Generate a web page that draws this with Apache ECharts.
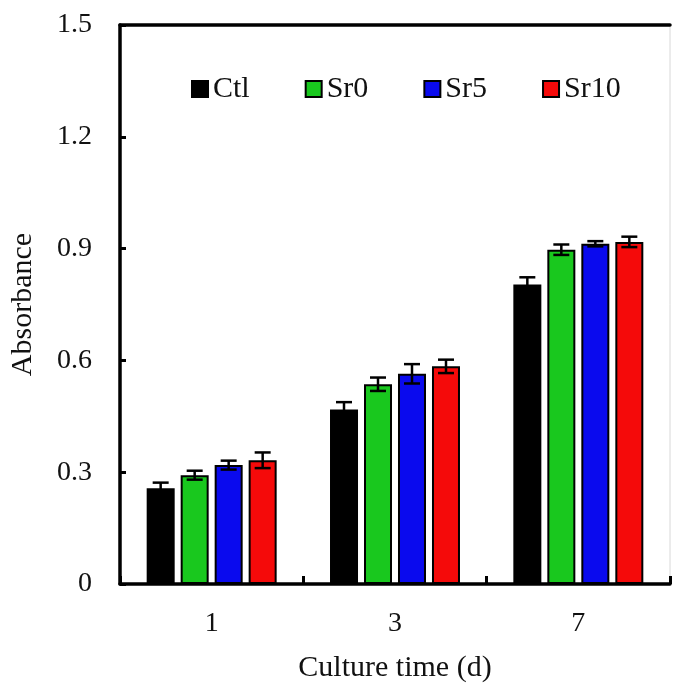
<!DOCTYPE html>
<html>
<head>
<meta charset="utf-8">
<script src="https://cdn.jsdelivr.net/npm/echarts@6/dist/echarts.min.js"></script>
<style>
  html,body{margin:0;padding:0;background:#fff;}
  #main{width:673px;height:688px;}
</style>
</head>
<body>
<div id="main"></div>
<script>
// 数据
var days = ['1', '3', '7'];
var seriesNames = ['Ctl', 'Sr0', 'Sr5', 'Sr10'];
var colors = ['#000000', '#19c81e', '#0a0aee', '#f50a0a'];
var ctl = [0.257, 0.468, 0.804];
var sr0 = [0.292, 0.536, 0.897];
var sr5 = [0.319, 0.564, 0.913];
var sr10 = [0.332, 0.584, 0.918];
var ctlErr = [0.015, 0.020, 0.019];
var sr0Err = [0.012, 0.018, 0.014];
var sr5Err = [0.012, 0.026, 0.007];
var sr10Err = [0.021, 0.018, 0.014];
var yTicks = [0, 0.3, 0.6, 0.9, 1.2, 1.5];

var values = [ctl, sr0, sr5, sr10];
var errs = [ctlErr, sr0Err, sr5Err, sr10Err];

var FONT = '"Liberation Serif","Times New Roman",serif';
var BAR_W = 28, BAR_GAP = 6;

var myChart = echarts.init(document.getElementById('main'));

var series = [];
//柱子
seriesNames.forEach(function(name, i){
  series.push({
    name: name,
    type: 'bar',
    barWidth: BAR_W,
    barGap: (BAR_GAP / BAR_W * 100).toFixed(1) + '%',
    data: values[i],
    itemStyle: {color: colors[i], borderColor: '#000', borderWidth: 2},
    z: 2
  });
});
//误差线
seriesNames.forEach(function(name, i){
  var offset = (i - 1.5) * (BAR_W + BAR_GAP);
  series.push({
    type: 'custom',
    name: name + '_err',
    z: 3,
    data: values[i].map(function(v, j){ return [j, v - errs[i][j], v + errs[i][j]]; }),
    renderItem: function(params, api){
      var lo = api.coord([api.value(0), api.value(1)]);
      var hi = api.coord([api.value(0), api.value(2)]);
      var x = lo[0] + offset;
      var cap = 8;
      var st = {stroke: '#000', lineWidth: 2.5};
      return {
        type: 'group',
        children: [
          {type: 'line', shape: {x1: x, y1: lo[1], x2: x, y2: hi[1]}, style: st},
          {type: 'line', shape: {x1: x - cap, y1: hi[1], x2: x + cap, y2: hi[1]}, style: st},
          {type: 'line', shape: {x1: x - cap, y1: lo[1], x2: x + cap, y2: lo[1]}, style: st}
        ]
      };
    }
  });
});

var option = {
  animation: false,
  backgroundColor: '#fff',
  grid: {
    left: 116, right: 3, top: 25, bottom: 102,
    show: true, borderColor: '#d8d8d8', borderWidth: 1
  },
  legend: {
    data: seriesNames,
    top: 69,
    left: 186,
    itemGap: 55,
    itemWidth: 16,
    itemHeight: 16,
    icon: 'rect',
    textStyle: {fontFamily: FONT, fontSize: 30, color: '#111'}
  },
  xAxis: [{
    type: 'category',
    data: days,
    name: 'Culture time (d)',
    nameLocation: 'middle',
    nameGap: 69,
    nameTextStyle: {fontFamily: FONT, fontSize: 30, color: '#111'},
    axisLine: {lineStyle: {color: '#000', width: 3.5}},
    axisTick: {show: true, interval: 0, inside: true, length: 8, lineStyle: {width: 3, color: '#000'}},
    axisLabel: {fontFamily: FONT, fontSize: 28, color: '#111', margin: 26}
  }, {
    type: 'category',
    data: days,
    position: 'top',
    axisLine: {lineStyle: {color: '#000', width: 3.5}},
    axisTick: {show: false},
    axisLabel: {show: false}
  }],
  yAxis: {
    type: 'value',
    min: yTicks[0],
    max: yTicks[yTicks.length - 1],
    interval: 0.3,
    name: 'Absorbance',
    nameLocation: 'middle',
    nameGap: 82,
    nameTextStyle: {fontFamily: FONT, fontSize: 30, color: '#111'},
    axisLine: {show: true, lineStyle: {color: '#000', width: 3.5}},
    axisTick: {show: true, inside: true, length: 6, lineStyle: {width: 3, color: '#000'}},
    splitLine: {show: false},
    axisLabel: {fontFamily: FONT, fontSize: 28, color: '#111', margin: 28}
  },
  series: series
};
myChart.setOption(option);
</script>
</body>
</html>
